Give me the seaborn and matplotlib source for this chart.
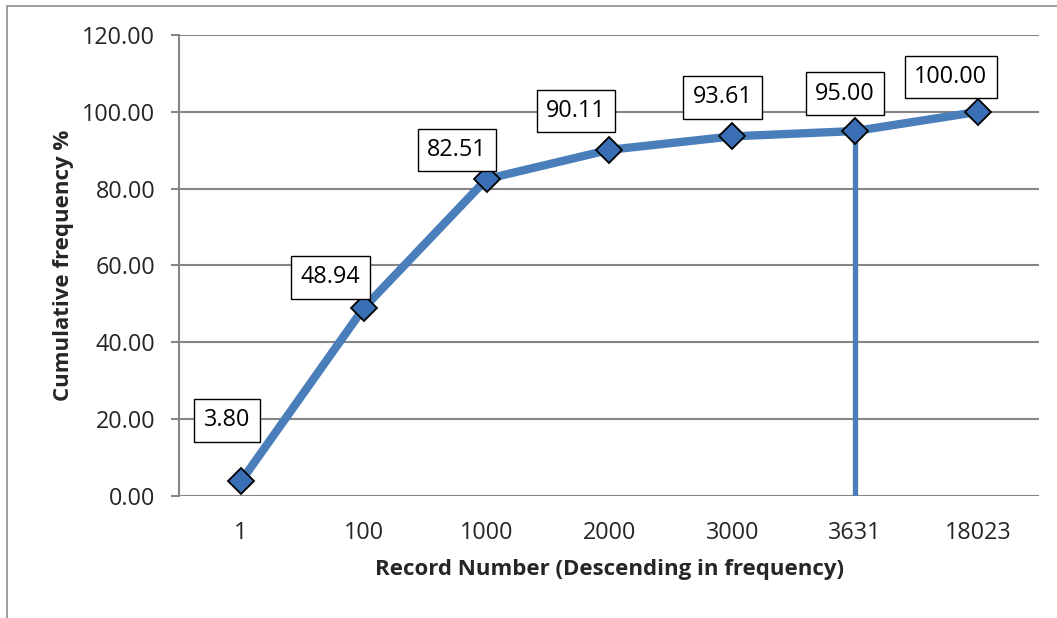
import matplotlib
matplotlib.use("Agg")
import matplotlib.pyplot as plt
import seaborn as sns
import pandas as pd
from matplotlib.patches import Rectangle

record_numbers = ["1", "100", "1000", "2000", "3000", "3631", "18023"]
cumulative_freq = [3.80, 48.94, 82.51, 90.11, 93.61, 95.00, 100.00]
y_ticks = [0, 20, 40, 60, 80, 100, 120]
marker_record = "3631"
marker_value = 95.00
# label offsets in points (dx, dy) relative to each data point
label_offsets = [(-10, 44), (-24, 22), (-21.5, 21), (-24, 28), (-7, 28), (-7.5, 27), (-19.5, 25)]

sns.set_theme(style="white")
plt.rcParams["font.family"] = ["Open Sans", "DejaVu Sans"]

df = pd.DataFrame({"rec": record_numbers, "freq": cumulative_freq})
df["pos"] = range(len(df))

fig = plt.figure(figsize=(10.57, 6.18), dpi=100)
ax = fig.add_axes([0.1698, 0.1974, 0.8136, 0.746])

grid_c = "#868686"
line_c = "#4A7EBB"
fs = 16.8

for t in y_ticks:
    ax.axhline(t, color=grid_c, lw=1.5, zorder=0)

mi = record_numbers.index(marker_record)
ax.vlines(mi, 0, marker_value, color=line_c, lw=3.8, zorder=2)

sns.lineplot(data=df, x="pos", y="freq", ax=ax, color=line_c, lw=6,
             marker="D", markersize=13, markerfacecolor="#3A6EB5",
             markeredgecolor="black", markeredgewidth=1.3, zorder=3)

for (x, y), (dx, dy) in zip(zip(df["pos"], df["freq"]), label_offsets):
    ax.annotate(f"{y:.2f}", (x, y), xytext=(dx, dy), textcoords="offset points",
                ha="center", va="center", fontsize=fs, color="black",
                bbox=dict(boxstyle="square,pad=0.4", fc="white", ec="black", lw=1.0),
                zorder=5)

ax.set_xlim(-0.5, len(record_numbers) - 0.5)
ax.set_ylim(0, 120)
ax.set_yticks(y_ticks)
ax.set_yticklabels([f"{t:.2f}" for t in y_ticks], fontsize=fs)
ax.set_xticks(df["pos"])
ax.set_xticklabels(record_numbers, fontsize=fs)
ax.tick_params(axis="y", length=6, width=1.5, color=grid_c, direction="out", left=True, pad=11.5)
ax.tick_params(axis="x", length=0, pad=18)

for s in ["top", "right", "bottom"]:
    ax.spines[s].set_visible(False)
ax.spines["left"].set_color(grid_c)
ax.spines["left"].set_linewidth(1.5)

ax.set_xlabel("Record Number (Descending in frequency)", fontsize=16, fontweight="bold", labelpad=10)
ax.set_ylabel("Cumulative frequency %", fontsize=16, fontweight="bold", labelpad=6)

fig.patches.append(Rectangle((7 / 1057, -0.1), 1.2, 1 - 6 / 618 + 0.1,
                             transform=fig.transFigure, fill=False,
                             ec="#8C8C8C", lw=1.2))

fig.savefig("out.png", dpi=100)
